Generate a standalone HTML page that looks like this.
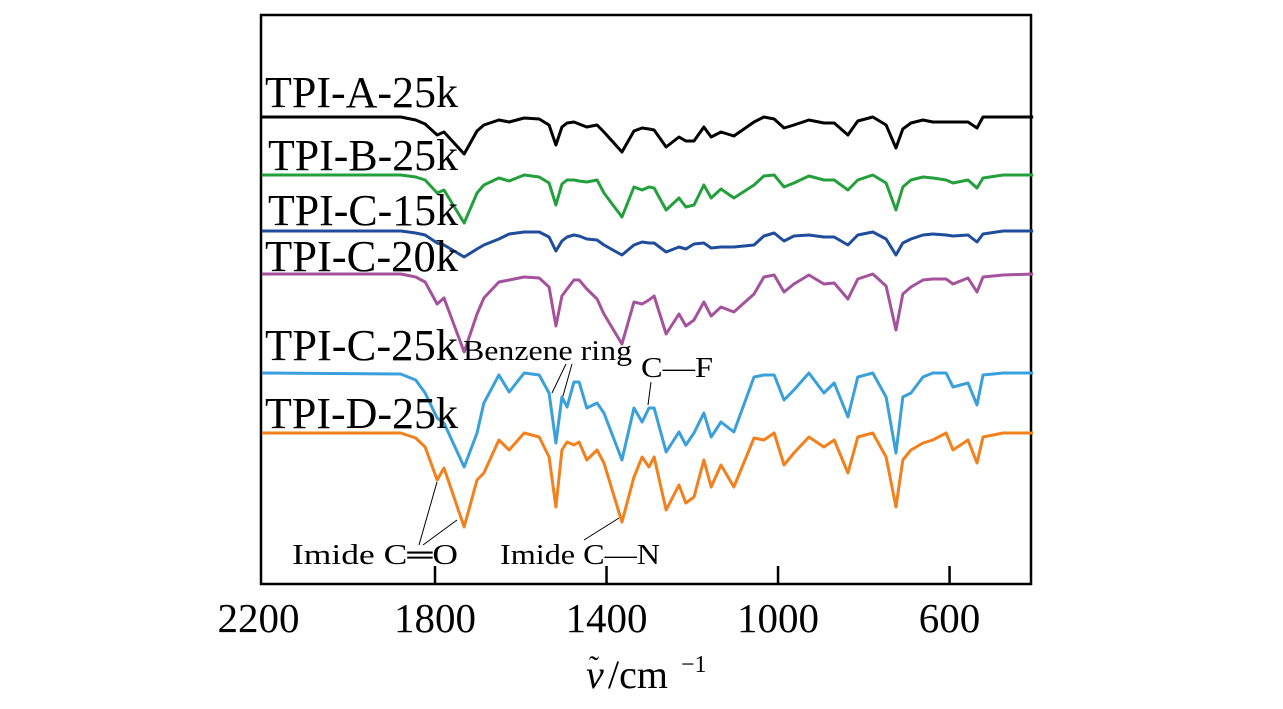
<!DOCTYPE html>
<html><head><meta charset="utf-8"><style>
body{margin:0;background:#fff;}
svg{display:block;font-family:"Liberation Serif",serif;}
</style></head><body>
<svg id="chart" width="1283" height="709" viewBox="0 0 1283 709">
<rect x="261" y="15" width="770" height="569" fill="none" stroke="#000" stroke-width="2.5"/>
<g id="ticks"></g>
<g id="series"></g>
<g font-size="44" fill="#000">
<text x="265" y="107" textLength="193" lengthAdjust="spacingAndGlyphs">TPI-A-25k</text>
<text x="268" y="170" textLength="190" lengthAdjust="spacingAndGlyphs">TPI-B-25k</text>
<text x="268" y="225" textLength="190" lengthAdjust="spacingAndGlyphs">TPI-C-15k</text>
<text x="265" y="271" textLength="193" lengthAdjust="spacingAndGlyphs">TPI-C-20k</text>
<text x="265" y="360" textLength="193" lengthAdjust="spacingAndGlyphs">TPI-C-25k</text>
<text x="265" y="428" textLength="193" lengthAdjust="spacingAndGlyphs">TPI-D-25k</text>
</g>
<g font-size="29" fill="#000">
<text x="463" y="360" textLength="169" lengthAdjust="spacingAndGlyphs">Benzene ring</text>
<text x="641" y="377" textLength="72" lengthAdjust="spacingAndGlyphs">C—F</text>
<text x="292" y="564" textLength="166" lengthAdjust="spacingAndGlyphs">Imide C═O</text>
<text x="500" y="564" textLength="160" lengthAdjust="spacingAndGlyphs">Imide C—N</text>
<g stroke="#000" stroke-width="1" fill="none">
<line x1="419" y1="545" x2="437" y2="482"/>
<line x1="423" y1="545" x2="457" y2="520"/>
<line x1="584" y1="540" x2="619" y2="518"/>
<line x1="552" y1="393" x2="566" y2="364"/>
<line x1="563" y1="396" x2="572" y2="364"/>
<line x1="648" y1="405" x2="651" y2="382"/>
</g>
</g>
<g>
<text x="586" y="688" font-size="40" font-style="italic">ν</text>
<text x="589" y="676" font-size="30">˜</text>
<text x="608" y="688" font-size="40">/cm</text>
<text x="681" y="672" font-size="24">−1</text>
</g>
</svg>
<script>
const grid=[2200,1880,1845,1823,1795,1779,1732,1702,1686,1651,1627,1592,1557,1534,1518,1504,1492,1476,1464,1446,1422,1406,1364,1336,1317,1301,1289,1261,1231,1215,1196,1173,1156,1133,1103,1056,1033,1009,986,963,928,893,869,837,814,779,748,725,709,690,662,639,608,592,557,536,522,475,405];
const seriesNames=["TPI-A-25k","TPI-B-25k","TPI-C-15k","TPI-C-20k","TPI-C-25k","TPI-D-25k"];
const offsets=[117,175,231,274,373,433];
const depthA=[0,0,3,7,18,15,37,14,8,3,5,1,2,8,28,10,6,5,7,10,8,15,35,14,11,12,13,30,20,24,24,10,20,15,19,5,0,2,11,8,3,6,6,18,4,0,8,31,12,6,3,5,5,5,5,11,0,0,0];
const depthB=[0,0,2,5,18,15,48,18,10,3,6,0,2,8,30,9,5,5,6,7,5,18,42,12,15,12,13,35,23,32,30,10,23,14,23,10,1,0,12,8,1,5,5,15,5,0,8,35,12,5,2,3,5,8,5,13,3,0,0];
const depthC15=[0,0,2,4,12,14,26,18,14,8,3,1,1,6,20,10,6,4,5,8,9,14,24,14,11,12,12,21,16,18,13,12,17,16,16,14,5,2,10,5,4,6,6,14,4,1,8,24,12,8,4,3,4,5,4,11,3,0,0];
const depthC20=[0,0,3,8,30,24,78,40,24,8,6,3,4,13,52,22,15,6,6,15,25,40,70,28,30,26,22,60,40,52,46,28,42,33,38,20,3,1,18,10,1,10,9,25,5,0,12,56,20,13,6,5,5,10,4,18,3,1,0];
const depthC25=[0,1,7,20,45,50,94,60,30,2,19,0,2,20,70,24,34,9,9,35,30,40,87,35,49,35,35,79,59,72,60,40,64,49,59,4,2,2,27,17,0,20,10,44,4,0,24,80,24,20,4,0,0,14,10,32,2,0,0];
const depthD=[0,0,5,14,47,35,94,47,40,7,17,0,4,24,74,17,9,12,9,27,17,30,89,44,24,34,24,77,52,70,64,27,54,32,54,5,7,0,32,20,4,14,7,40,4,0,24,74,27,17,10,7,0,17,7,30,4,0,0];
const tickValues=[1800,1400,1000,600];
const tickLabels=["2200","1800","1400","1000","600"];
const labelValues=[2200,1800,1400,1000,600];
const colors=["#000000","#23a03b","#1f4d9c","#a5529d","#3aa0dc","#f2801c"];
const NS="http://www.w3.org/2000/svg";
function xScale(v){return 435+(1800-v)*0.4288;}
function yScale(d,i){return offsets[i]+d;}
const depths=[depthA,depthB,depthC15,depthC20,depthC25,depthD];
const sg=document.getElementById('series');
depths.forEach((arr,i)=>{
  const p=document.createElementNS(NS,'polyline');
  p.setAttribute('points',grid.map((v,k)=>(k===0?262:xScale(v))+','+yScale(arr[k],i)).join(' '));
  p.setAttribute('fill','none');
  p.setAttribute('stroke',colors[i]);
  p.setAttribute('stroke-width','3');
  p.setAttribute('stroke-linejoin','round');
  
  
  sg.appendChild(p);
});
const tg=document.getElementById('ticks');
tickValues.forEach(v=>{
  const l=document.createElementNS(NS,'line');
  l.setAttribute('x1',xScale(v));l.setAttribute('x2',xScale(v));
  l.setAttribute('y1',566);l.setAttribute('y2',584);
  l.setAttribute('stroke','#000');l.setAttribute('stroke-width','2.5');
  
  
  tg.appendChild(l);
});
labelValues.forEach((v,k)=>{
  const t=document.createElementNS(NS,'text');
  t.setAttribute('x',xScale(v)+(v===2200?-5:0));t.setAttribute('y',632);
  t.setAttribute('font-size','41');t.setAttribute('text-anchor','middle');
  t.textContent=tickLabels[k];
  
  
  tg.appendChild(t);
});
</script>
</body></html>
